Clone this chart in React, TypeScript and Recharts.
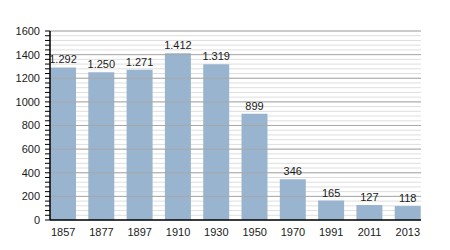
import { BarChart, Bar, XAxis, YAxis, CartesianGrid, ReferenceLine, LabelList } from "recharts";

const years = ["1857", "1877", "1897", "1910", "1930", "1950", "1970", "1991", "2011", "2013"];
const population = [1292, 1250, 1271, 1412, 1319, 899, 346, 165, 127, 118];
const majorTicks = [0, 200, 400, 600, 800, 1000, 1200, 1400, 1600];
const minorTicks = Array.from({ length: 41 }, (_, i) => i * 40);

const data = years.map((year, i) => ({ year, value: population[i] }));

// Tausenderpunkt wie im Original: 1.292
const fmt = (v: number) =>
  v >= 1000 ? `${Math.floor(v / 1000)}.${String(v % 1000).padStart(3, "0")}` : String(v);

const FONT = "'Liberation Sans', Arial, sans-serif";

export default function App() {
  return (
    <div style={{ position: "absolute", left: 0, top: 0, width: 450, height: 250, background: "#fff", fontFamily: FONT }}>
      <BarChart
        width={450}
        height={250}
        data={data}
        margin={{ top: 31, right: 29, bottom: 10, left: 0 }}
      >
        <CartesianGrid vertical={false} stroke="#dedede" horizontalValues={minorTicks} />
        {majorTicks.slice(1).map((t) => (
          <ReferenceLine key={t} y={t} stroke="#a8a8a8" strokeWidth={1} />
        ))}
        <XAxis
          dataKey="year"
          tickLine={false}
          axisLine={{ stroke: "#000", strokeWidth: 1.5 }}
          tick={{ fontSize: 11, fill: "#1a1a1a", fontFamily: FONT }}
          height={20}
          interval={0}
          padding={{ left: -6, right: -6 }}
        />
        <YAxis
          type="number"
          domain={[0, 1600]}
          ticks={minorTicks}
          interval={0}
          width={50}
          axisLine={{ stroke: "#000", strokeWidth: 1.5 }}
          tickLine={{ stroke: "#000" }}
          tickSize={5}
          tick={{ fontSize: 11, fill: "#1a1a1a", fontFamily: FONT, dx: -3 }}
          tickFormatter={(v: number) => (v % 200 === 0 ? String(v) : "")}
        />
        <Bar dataKey="value" fill="#99b4cf" barSize={26} isAnimationActive={false}>
          <LabelList
            dataKey="value"
            position="top"
            offset={4}
            formatter={(v: any) => fmt(Number(v))}
            style={{ fontSize: 11, fill: "#1a1a1a", fontFamily: FONT }}
          />
        </Bar>
      </BarChart>
    </div>
  );
}
